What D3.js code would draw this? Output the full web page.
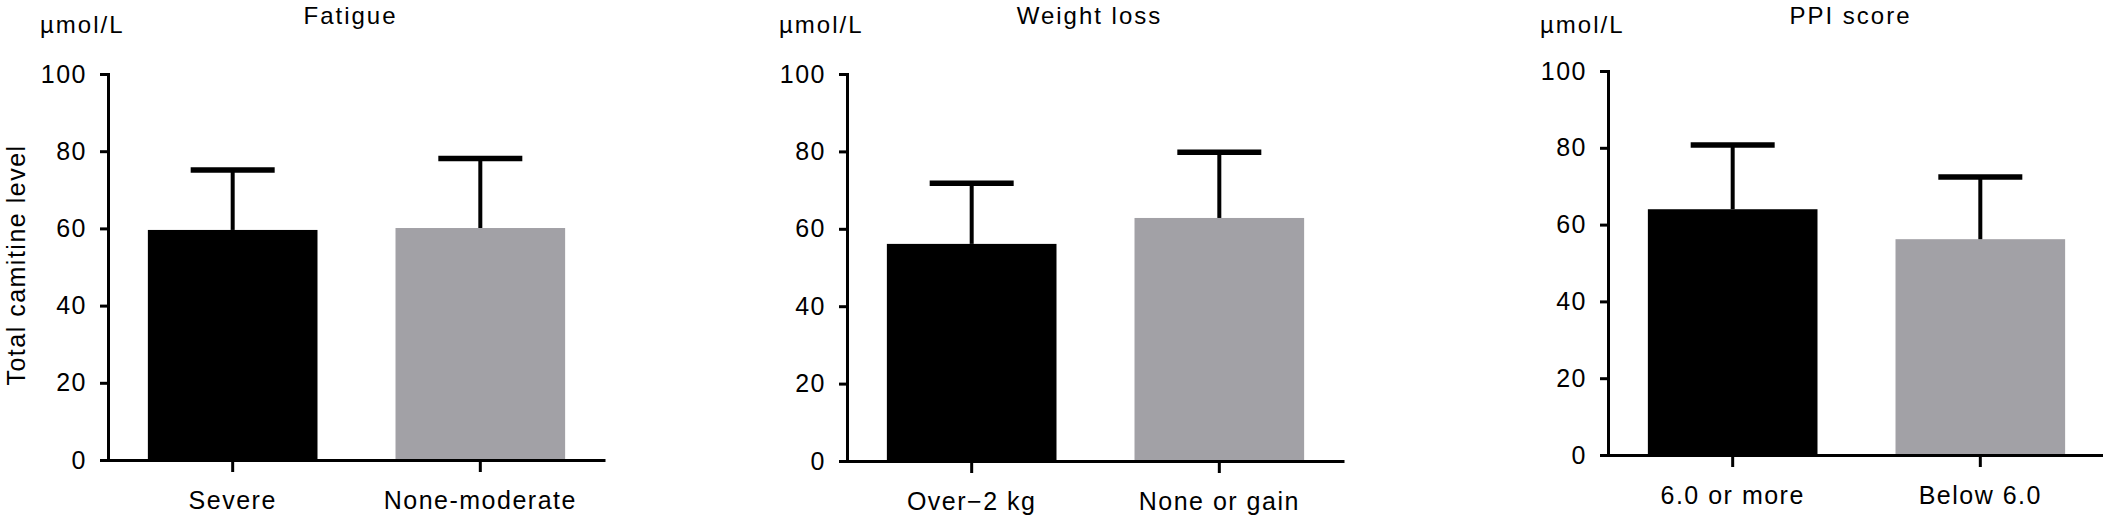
<!DOCTYPE html>
<html>
<head>
<meta charset="utf-8">
<script src="https://cdn.jsdelivr.net/npm/d3@7"></script>
<style>
  body { margin: 0; background: #fff; }
  svg text { font-family: "Liberation Sans", Arial, Helvetica, sans-serif; fill: #000; }
</style>
</head>
<body>
<svg id="chart" width="2103" height="520"></svg>
<script>
// panel titles and group names
const titles = ["Fatigue", "Weight loss", "PPI score"];
const groups = [
  ["Severe", "None-moderate"],
  ["Over\u22122 kg", "None or gain"],
  ["6.0 or more", "Below 6.0"]
];
// bar means and top of the error bars (mean + SD), µmol/L
const means = [
  [59.6, 60.1],
  [56.1, 62.8],
  [64.0, 56.2]
];
const upper = [
  [75.1, 78.1],
  [71.8, 79.8],
  [80.7, 72.4]
];
const yTicks = [0, 20, 40, 60, 80, 100];
const unit = "\u00b5mol/L";
const yTitle = "Total camitine level";

const barColors = ["#000000", "#a2a1a6"];
const fontSize = 25;

var svg = d3.select("#chart");

// left edge of each y axis and its vertical span
var axisLeft = [108, 847, 1608];
var axisTop = [74, 74, 71];
var axisBottom = [460, 461, 455];
var plotW = 497;

titles.forEach(function (title, p) {
  var g = svg.append("g")
      .attr("transform", "translate(" + axisLeft[p] + ",0)");

  var y = d3.scaleLinear()
      .domain([0, 100])
      .range([axisBottom[p], axisTop[p]]);

  var x = d3.scaleBand()
      .domain(groups[p])
      .range([0, plotW])
      .paddingInner(0.315)
      .paddingOuter(0.161);

  var rows = groups[p].map(function (name, i) {
    return { name: name, mean: means[p][i], top: upper[p][i], i: i };
  });

  // bars
  g.selectAll("rect.bar")
    .data(rows)
    .enter().append("rect")
      .attr("class", "bar")
      .attr("x", function (d) { return x(d.name); })
      .attr("y", function (d) { return y(d.mean); })
      .attr("width", x.bandwidth())
      .attr("height", function (d) { return y(0) - y(d.mean); })
      .style("fill", function (d) { return barColors[d.i]; });

  // error bars (upper only)
  g.selectAll("line.err")
    .data(rows)
    .enter().append("line")
      .attr("class", "err")
      .attr("x1", function (d) { return x(d.name) + x.bandwidth() / 2; })
      .attr("x2", function (d) { return x(d.name) + x.bandwidth() / 2; })
      .attr("y1", function (d) { return y(d.mean); })
      .attr("y2", function (d) { return y(d.top); })
      .style("stroke", "#000")
      .style("stroke-width", 4);

  g.selectAll("line.cap")
    .data(rows)
    .enter().append("line")
      .attr("class", "cap")
      .attr("x1", function (d) { return x(d.name) + x.bandwidth() / 2 - 42; })
      .attr("x2", function (d) { return x(d.name) + x.bandwidth() / 2 + 42; })
      .attr("y1", function (d) { return y(d.top); })
      .attr("y2", function (d) { return y(d.top); })
      .style("stroke", "#000")
      .style("stroke-width", 5.5);

  // axes
  var yAxis = g.append("g")
      .call(d3.axisLeft(y).tickValues(yTicks).tickSize(8).tickSizeOuter(0).tickPadding(13));

  var xAxis = g.append("g")
      .attr("transform", "translate(0," + y(0) + ")")
      .call(d3.axisBottom(x).tickSize(12).tickSizeOuter(0).tickPadding(19));

  [yAxis, xAxis].forEach(function (a) {
    a.attr("font-family", null).attr("font-size", null);
    a.selectAll("path, line").style("stroke", "#000").style("stroke-width", 3);
    a.selectAll("text")
      .style("font-size", fontSize + "px")
      .style("letter-spacing", "1.5px");
  });
  yAxis.select(".domain").attr("stroke-linecap", "square");

  // unit label and title
  g.append("text")
      .attr("x", -68)
      .attr("y", 33)
      .style("font-size", "24px")
      .style("letter-spacing", "2px")
      .text(unit);

  g.append("text")
      .attr("x", plotW / 2 - 6)
      .attr("y", 24)
      .attr("text-anchor", "middle")
      .style("font-size", "24px")
      .style("letter-spacing", "2px")
      .text(title);

  if (p === 0) {
    g.append("text")
      .attr("transform", "translate(" + (-83) + "," + ((axisTop[p] + axisBottom[p]) / 2 - 2) + ") rotate(-90)")
      .attr("text-anchor", "middle")
      .style("font-size", fontSize + "px")
      .style("letter-spacing", "1.5px")
      .text(yTitle);
  }
});
</script>
</body>
</html>
